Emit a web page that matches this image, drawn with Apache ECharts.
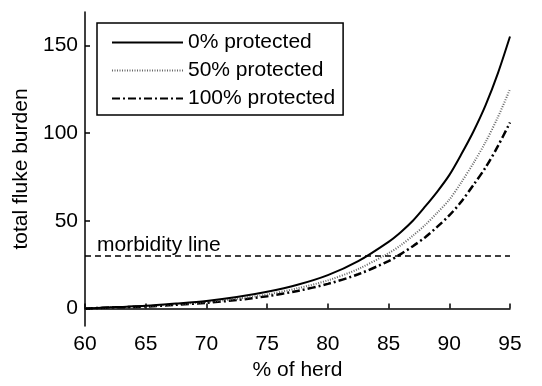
<!DOCTYPE html>
<html>
<head>
<meta charset="utf-8">
<script src="https://cdn.jsdelivr.net/npm/echarts@6/dist/echarts.min.js"></script>
<style>
html,body{margin:0;padding:0;background:#fff;}
#chart{width:542px;height:386px;}
</style>
</head>
<body>
<div id="chart"></div>
<script>
// Data
const herdPct = [60, 62.5, 65, 67.5, 70, 72.5, 75, 77.5, 80, 82.5, 85, 86, 87, 88, 89, 90, 91, 92, 93, 94, 95];
const protected0 = [0, 0.8, 1.5, 2.8, 4.3, 6.5, 9.5, 13.5, 19, 27, 38, 43.5, 50, 58, 66.5, 76, 88, 101, 116, 134, 155];
const protected50 = [0, 0.7, 1.3, 2.4, 3.7, 5.5, 8, 11.5, 16, 22.5, 31.5, 36, 41.5, 47.5, 54.5, 62, 72, 83, 95, 109, 125];
const protected100 = [0, 0.6, 1.1, 2.1, 3.2, 4.8, 7, 10, 14, 19.5, 27, 31, 35.5, 40.5, 46.5, 53, 61, 70.5, 80.5, 92.5, 106];
const seriesNames = ['0% protected', '50% protected', '100% protected'];
const morbidityLevel = 30;
const morbidityLabel = 'morbidity line';
const yTicks = [0, 50, 100, 150];

const pairs = (ys) => herdPct.map((x, i) => [x, ys[i]]);
const FONT = '"Liberation Sans", Arial, Helvetica, sans-serif';
const FS = 21;

const chart = echarts.init(document.getElementById('chart'), null, {renderer: 'canvas'});
chart.setOption({
  animation: false,
  backgroundColor: '#fff',
  textStyle: {fontFamily: FONT, color: '#000'},
  grid: {left: 85, right: 32, top: 12, bottom: 60},
  legend: {
    left: 97, top: 23,
    orient: 'vertical',
    data: seriesNames,
    itemWidth: 71, itemHeight: 14, itemGap: 5,
    padding: [8, 8, 5, 14],
    borderColor: '#000', borderWidth: 1.5,
    itemStyle: {opacity: 0},
    textStyle: {fontFamily: FONT, fontSize: FS, color: '#000', lineHeight: 23}
  },
  xAxis: {
    type: 'value', min: 60, max: 95, interval: 5,
    name: '% of herd', nameLocation: 'middle', nameGap: 30,
    nameTextStyle: {fontSize: FS, color: '#000', fontFamily: FONT},
    axisLine: {lineStyle: {color: '#000', width: 1.5}},
    axisTick: {inside: true, length: 5, lineStyle: {color: '#000', width: 1.5}},
    axisLabel: {fontSize: FS, color: '#000', margin: 8, fontFamily: FONT},
    splitLine: {show: false}
  },
  yAxis: {
    type: 'value', min: -10, max: 169,
    name: 'total fluke burden', nameLocation: 'middle', nameGap: 52,
    nameTextStyle: {fontSize: FS, color: '#000', fontFamily: FONT},
    axisLine: {show: true, lineStyle: {color: '#000', width: 1.5}},
    axisTick: {show: true, inside: true, length: 5, customValues: yTicks, lineStyle: {color: '#000', width: 1.5}},
    axisLabel: {fontSize: FS, color: '#000', margin: 7, customValues: yTicks, fontFamily: FONT},
    splitLine: {show: false}
  },
  series: [
    {
      name: 'morbidity', type: 'line', symbol: 'none', silent: true,
      data: [],
      markLine: {
        silent: true, symbol: 'none', animation: false,
        lineStyle: {color: '#000', width: 1.5, type: [6, 4]},
        label: {show: true, position: 'insideStartTop', formatter: morbidityLabel, distance: [12, 0], fontSize: FS, color: '#000', fontFamily: FONT},
        data: [{yAxis: morbidityLevel}]
      }
    },
    {
      name: seriesNames[2], type: 'line', symbol: 'none', smooth: 0.3,
      data: pairs(protected100),
      lineStyle: {color: '#000', width: 2.5, type: [8, 3, 2, 3]},
      itemStyle: {color: '#000'}
    },
    {
      name: seriesNames[1], type: 'line', symbol: 'none', smooth: 0.3,
      data: pairs(protected50),
      lineStyle: {color: '#666', width: 2, type: [1, 1.5]},
      itemStyle: {color: '#666'}
    },
    {
      name: seriesNames[0], type: 'line', symbol: 'none', smooth: 0.3,
      data: pairs(protected0),
      lineStyle: {color: '#000', width: 2},
      itemStyle: {color: '#000'}
    }
  ]
});
</script>
</body>
</html>
